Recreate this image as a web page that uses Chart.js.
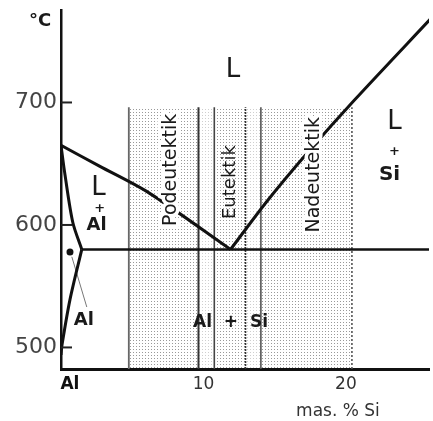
<!DOCTYPE html>
<html>
<head>
<meta charset="utf-8">
<script src="https://cdn.jsdelivr.net/npm/chart.js@4/dist/chart.umd.min.js"></script>
<style>
  html, body { margin: 0; padding: 0; background: #fff; }
  canvas { display: block; }
</style>
</head>
<body>
<canvas id="c" width="433" height="421"></canvas>
<script>
// Al-Si phase diagram, x = mas. % Si, y = °C
const alLiquidus = [[0, 665], [2.7, 648], [6.2, 626], [11.9, 580]];
const alSolidus = [[0, 665], [0.28, 641], [0.83, 602], [1.46, 580]];
const alSolvus = [[1.46, 580], [0.63, 539], [0.07, 502], [0, 494]];
const siLiquidus = [[11.9, 580], [14.5, 620], [17.3, 659], [20.6, 702], [26, 769]];
const eutecticLine = [[1.46, 580], [26, 580]];
const leader = [[0.76, 574], [1.81, 533]];
const dotPoint = [[0.63, 578]];

const bandEdges = [4.76, 9.65, 10.76, 12.95, 14.03, 20.42];
const bandTop = 696;

const xTicks = [0, 10, 20];
const yTicks = [500, 600, 700];
const xMin = 0, xMax = 25.83;
const yMin = 482.4, yMax = 775.5;

const FONT = "'DejaVu Sans', sans-serif";

const labels = [
  { t: "L", x: 12.08, y: 726.5, size: 26, bold: false },
  { t: "L", x: 2.64, y: 630, size: 26, bold: false },
  { t: "+", x: 2.71, y: 613, size: 13, bold: true },
  { t: "Al", x: 2.5, y: 600, size: 18, bold: true },
  { t: "L", x: 23.4, y: 684, size: 26, bold: false },
  { t: "+", x: 23.4, y: 659.6, size: 13, bold: true },
  { t: "Si", x: 23.06, y: 640.8, size: 20, bold: true },
  { t: "Al", x: 1.6, y: 522.4, size: 18, bold: true },
  { t: "Al  +  Si", x: 11.9, y: 520, size: 17, bold: true },
  { t: "Podeutektik", x: 7.71, y: 645, size: 19, rot: true, halo: true },
  { t: "Eutektik", x: 11.88, y: 635, size: 18, rot: true },
  { t: "Nadeutektik", x: 17.78, y: 641, size: 19, rot: true, halo: true },
  { t: "°C", x: -1.46, y: 766.5, size: 18, bold: true },
  { t: "mas. % Si", x: 19.44, y: 447.3, size: 17, bold: false, color: "#333" }
];

const ctx = document.getElementById("c").getContext("2d");

function stipple(dot) {
  const c = document.createElement("canvas");
  c.width = 3; c.height = 3;
  const g = c.getContext("2d");
  g.fillStyle = dot;
  g.fillRect(1, 1, 1, 1);
  return ctx.createPattern(c, "repeat");
}
const dense = stipple("#999");
const light = stipple("#cfcfcf");

const pts = arr => arr.map(p => ({ x: p[0], y: p[1] }));

function curve(arr, width, color) {
  return {
    data: pts(arr), showLine: true, pointRadius: 0,
    borderColor: color, borderWidth: width,
    tension: 0.3, fill: false, order: 1
  };
}

const datasets = [
  curve(alLiquidus, 3, "#111"),
  curve(alSolidus, 3, "#111"),
  curve(alSolvus, 3, "#111"),
  curve(siLiquidus, 3, "#111"),
  curve(eutecticLine, 2.5, "#111"),
  curve(leader, 1, "#777"),
  { data: pts(dotPoint), pointRadius: 3.5, pointBackgroundColor: "#111", pointBorderWidth: 0, order: 0 }
];

const edgeColors = ["#666", "#333", "#444", "#333", "#555", "#555"];
const edgeWidths = [1.8, 2, 1.6, 1.6, 1.6, 1.6];
const edgeDash = [[], [], [], [2, 1], [], [2, 2]];
bandEdges.forEach((e, i) => {
  datasets.push({
    data: [{ x: e, y: yMin }, { x: e, y: bandTop }], showLine: true, pointRadius: 0,
    borderColor: edgeColors[i], borderWidth: edgeWidths[i], borderDash: edgeDash[i], order: 2
  });
});
bandEdges.slice(0, -1).forEach((e, i) => {
  datasets.push({
    data: [{ x: e, y: bandTop }, { x: bandEdges[i + 1], y: bandTop }], showLine: true, pointRadius: 0,
    borderWidth: 0, borderColor: "rgba(0,0,0,0)",
    backgroundColor: (i === 1 || i === 3) ? light : dense, fill: "start", order: 3
  });
});

const textPlugin = {
  id: "texts",
  afterDatasetsDraw(chart) {
    const c = chart.ctx, xs = chart.scales.x, ys = chart.scales.y;
    const ca = chart.chartArea;
    // inward tick marks on the temperature axis
    c.save();
    c.strokeStyle = "#222";
    c.lineWidth = 2;
    yTicks.forEach(v => {
      const py = ys.getPixelForValue(v);
      c.beginPath();
      c.moveTo(ca.left, py);
      c.lineTo(ca.left + 11, py);
      c.stroke();
    });
    c.restore();

    labels.forEach(l => {
      const px = xs.getPixelForValue(l.x), py = ys.getPixelForValue(l.y);
      c.save();
      c.translate(px, py);
      if (l.rot) c.rotate(-Math.PI / 2);
      c.font = (l.bold ? "bold " : "") + l.size + "px " + FONT;
      c.textAlign = "center";
      c.textBaseline = "middle";
      if (l.halo) {
        c.strokeStyle = "#fff";
        c.lineWidth = 7;
        c.lineJoin = "round";
        c.strokeText(l.t, 0, 0);
      }
      c.fillStyle = l.color || "#1a1a1a";
      c.fillText(l.t, 0, 0);
      c.restore();
    });
  }
};

function noPad(s) {
  s.paddingTop = 0; s.paddingBottom = 0; s.paddingLeft = 0; s.paddingRight = 0;
}

new Chart(ctx, {
  type: "scatter",
  data: { datasets },
  options: {
    responsive: false,
    animation: false,
    devicePixelRatio: 1,
    layout: { padding: { top: 10, right: 0, left: 0, bottom: 0 } },
    plugins: { legend: { display: false }, tooltip: { enabled: false } },
    scales: {
      x: {
        type: "linear", min: xMin, max: xMax,
        afterFit: s => { s.height = 52; noPad(s); },
        afterBuildTicks: s => { s.ticks = xTicks.map(v => ({ value: v })); },
        grid: { display: false, drawTicks: false },
        border: { display: true, color: "#111", width: 3 },
        ticks: {
          autoSkip: false, maxRotation: 0, padding: 5,
          callback: v => v === 0 ? "   Al" : String(v),
          color: c => c.tick && c.tick.value === 0 ? "#111" : "#333",
          font: c => c.tick && c.tick.value === 0
            ? { family: FONT, size: 17, weight: "bold" }
            : { family: FONT, size: 17 }
        }
      },
      y: {
        type: "linear", min: yMin, max: yMax,
        afterFit: s => { s.width = 61; noPad(s); },
        afterBuildTicks: s => { s.ticks = yTicks.map(v => ({ value: v })); },
        grid: { display: false, drawTicks: false },
        border: { display: true, color: "#111", width: 2.5 },
        ticks: { padding: 4, color: "#444", font: { family: FONT, size: 22 } }
      }
    }
  },
  plugins: [textPlugin]
});
</script>
</body>
</html>
